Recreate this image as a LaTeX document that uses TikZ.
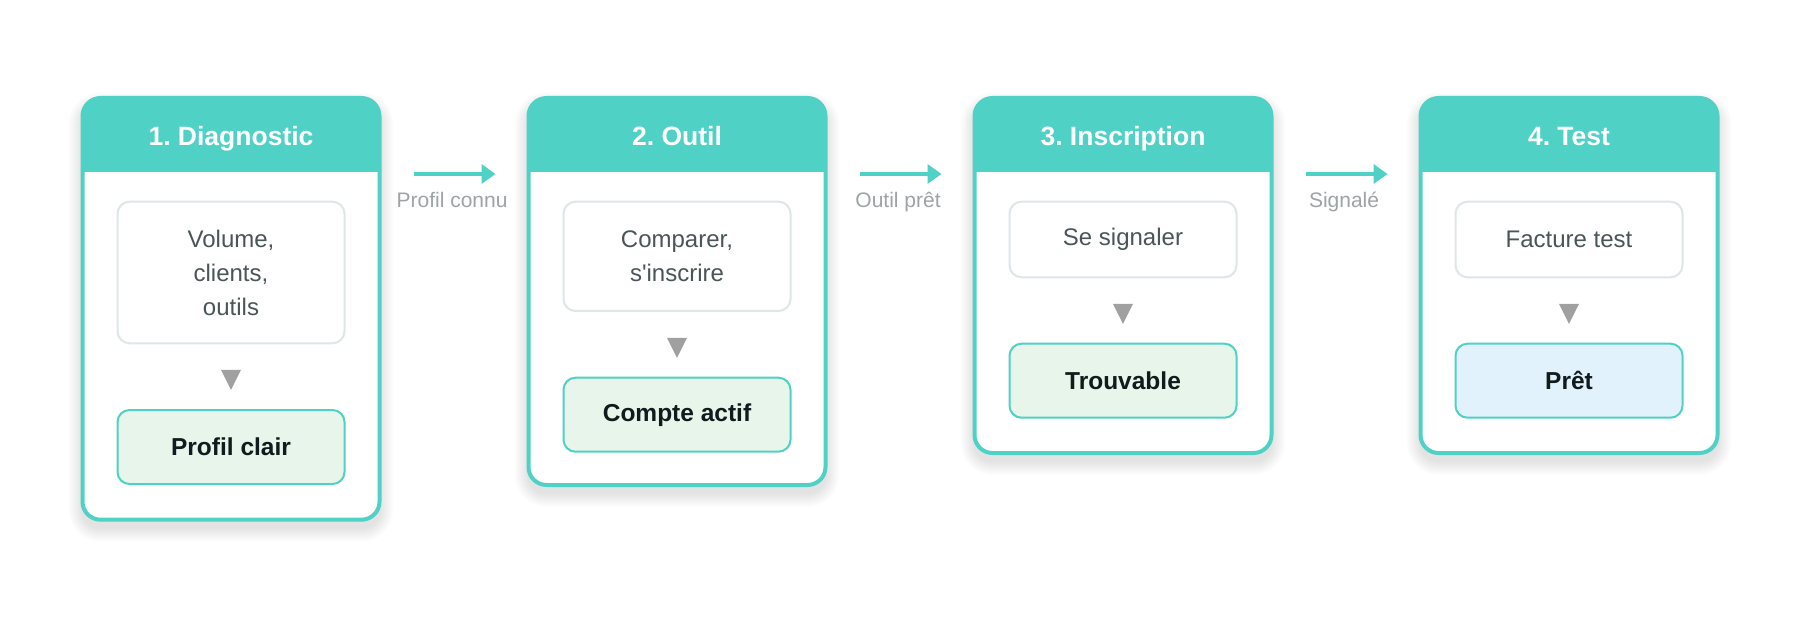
\documentclass[tikz,border=0pt]{standalone}
\usepackage{fontspec}
\setmainfont{Liberation Sans}
\usetikzlibrary{arrows.meta,shapes.geometric,backgrounds}
\definecolor{teal}{HTML}{4FD1C5}
\definecolor{innerline}{HTML}{DFE6E8}
\definecolor{innertxt}{HTML}{4A5558}
\definecolor{restxt}{HTML}{111A1C}
\definecolor{greenfill}{HTML}{E7F5EB}
\definecolor{bluefill}{HTML}{E2F2FC}
\definecolor{trigray}{HTML}{A0A0A0}
\definecolor{lblgray}{HTML}{9EA3A5}
\newcommand{\straightquote}{\XeTeXglyph\XeTeXcharglyph"0027\relax}
\tikzset{
  card/.style={draw=teal, line width=4pt, fill=white, rounded corners=18pt,
    minimum width=297pt, inner sep=0pt, outer sep=0pt, anchor=north},
  headtxt/.style={text=white, font=\fontsize{26.5}{30}\selectfont\bfseries, anchor=base, inner sep=0pt},
  innerbox/.style={draw=innerline, line width=2pt, fill=white, rounded corners=12pt,
    minimum width=227pt, inner sep=0pt, outer sep=0pt, anchor=north, align=center,
    text=innertxt, font=\fontsize{24}{34}\selectfont},
  resbox/.style={draw=teal, line width=2pt, fill=greenfill, rounded corners=12pt,
    minimum width=227pt, minimum height=74pt, inner sep=0pt, outer sep=0pt, anchor=north,
    text=restxt, font=\fontsize{24.5}{30}\selectfont\bfseries},
  tri/.style={isosceles triangle, shape border rotate=-90, isosceles triangle stretches,
    minimum width=20pt, minimum height=20pt, inner sep=0pt, fill=trigray, draw=none},
  flow/.style={draw=teal, line width=3.5pt, -{Triangle[length=14pt,width=19pt]}},
  lbl/.style={text=lblgray, font=\fontsize{21}{25}\selectfont, anchor=base, inner sep=0pt}
}
\frenchspacing
\begin{document}
\begin{tikzpicture}[x=1pt,y=-1pt]
\useasboundingbox (0,0) rectangle (1800,620);

% cards
\node[card, minimum height=421.7pt] (c1) at (231,98) {};
\node[card, minimum height=387pt] (c2) at (677,98) {};
\node[card, minimum height=355pt] (c3) at (1123,98) {};
\node[card, minimum height=355pt] (c4) at (1569,98) {};

% background and soft shadows
\begin{scope}[on background layer]
  \fill[white] (0,0) rectangle (1800,620);
  \foreach \c in {c1,c2,c3,c4}{
    \foreach \k in {1,...,14}{
      \fill[black, fill opacity=0.009, rounded corners={(18+\k)*1pt}]
        ([shift={(-\k,8-\k)}]\c.north west) rectangle ([shift={(\k,8+\k)}]\c.south east);
    }
  }
\end{scope}

% headers
\foreach \c in {c1,c2,c3,c4}{
  \begin{scope}
    \clip[rounded corners=18pt] (\c.north west) rectangle (\c.south east);
    \fill[teal] (\c.north west) rectangle (\c.east |- 0,171.7);
  \end{scope}
}
\node[headtxt] (h1) at (231,146) {1. Diagnostic};
\node[headtxt] (h2) at (677,146) {2. Outil};
\node[headtxt] (h3) at (1123,146) {3. Inscription};
\node[headtxt] (h4) at (1569,146) {4. Test};

% inner boxes
\node[innerbox, minimum height=141.6pt] (i1) at (231,201.7) {Volume,\\clients,\\outils};
\node[innerbox, minimum height=109.3pt] (i2) at (677,201.7) {Comparer,\\s\straightquote inscrire};
\node[innerbox, minimum height=75.6pt] (i3) at (1123,201.7) {Se signaler};
\node[innerbox, minimum height=75.6pt] (i4) at (1569,201.7) {Facture test};

% triangles
\node[tri] (t1) at (231,376) {};
\node[tri] (t2) at (677,344) {};
\node[tri] (t3) at (1123,310) {};
\node[tri] (t4) at (1569,310) {};

% results
\node[resbox] (r1) at (231,410) {Profil clair};
\node[resbox] (r2) at (677,377.7) {Compte actif};
\node[resbox] (r3) at (1123,343.7) {Trouvable};
\node[resbox, fill=bluefill] (r4) at (1569,343.7) {Prêt};

% arrows between cards
\draw[flow] ([shift={(34,76)}]c1.north east) -- ([shift={(-33,76)}]c2.north west)
  node[lbl, pos=0.47, yshift=-34pt] (l1) {Profil connu};
\draw[flow] ([shift={(34,76)}]c2.north east) -- ([shift={(-33,76)}]c3.north west)
  node[lbl, pos=0.47, yshift=-34pt] (l2) {Outil prêt};
\draw[flow] ([shift={(34,76)}]c3.north east) -- ([shift={(-33,76)}]c4.north west)
  node[lbl, pos=0.47, yshift=-34pt] (l3) {Signalé};
\end{tikzpicture}
\end{document}
